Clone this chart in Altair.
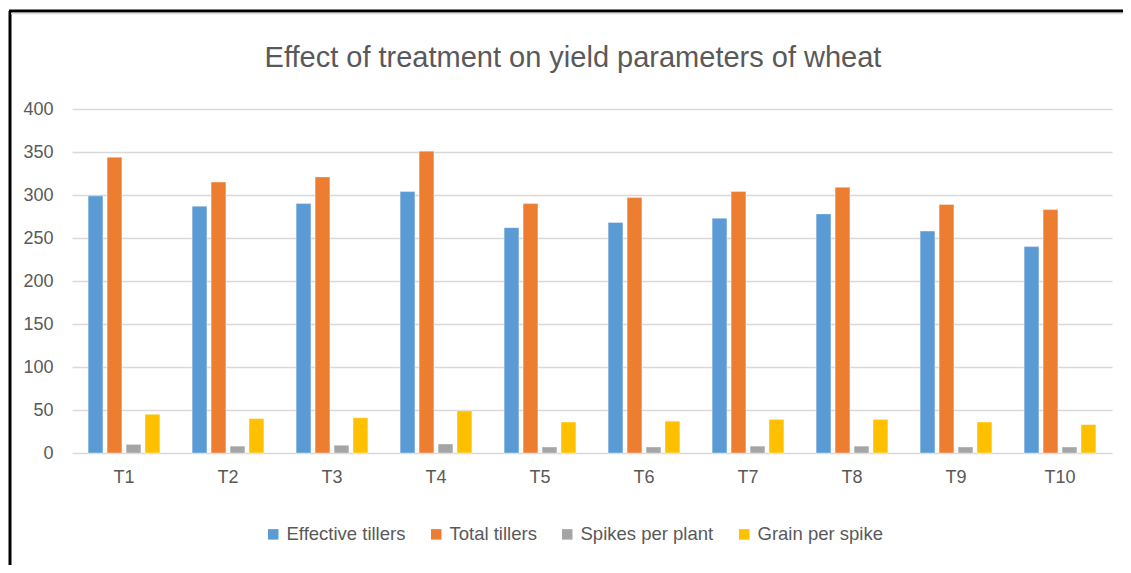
import altair as alt
import pandas as pd

treatments = ["T1", "T2", "T3", "T4", "T5", "T6", "T7", "T8", "T9", "T10"]
series = ["Effective tillers", "Total tillers", "Spikes per plant", "Grain per spike"]
effective_tillers = [299, 287, 290, 304, 262, 268, 273, 278, 258, 240]
total_tillers = [344, 315, 321, 351, 290, 297, 304, 309, 289, 283]
spikes_per_plant = [10, 8, 9, 10.5, 7, 7, 8, 8, 7, 7]
grain_per_spike = [45, 40, 41, 49, 36, 37, 39, 39, 36, 33]
colors = ["#5B9BD5", "#ED7D31", "#A5A5A5", "#FFC000"]
y_ticks = [0, 50, 100, 150, 200, 250, 300, 350, 400]
title_text = "Effect of treatment on yield parameters of wheat"

rows = []
for s, vals in zip(series, [effective_tillers, total_tillers, spikes_per_plant, grain_per_spike]):
    for t, v in zip(treatments, vals):
        rows.append({"Treatment": t, "Series": s, "Value": v})
df = pd.DataFrame(rows)

FONT = "Liberation Sans, Arial, sans-serif"
TXT = "#595959"

bars = alt.Chart(df).mark_bar(stroke="white", strokeWidth=0.6, strokeOpacity=0.6).encode(
    x=alt.X("Treatment:N", sort=treatments, title=None,
            scale=alt.Scale(paddingInner=0.31, paddingOuter=0.155),
            axis=alt.Axis(labelAngle=0, ticks=False, domain=False, labelPadding=15,
                          labelFontSize=18, labelColor=TXT, labelFont=FONT)),
    xOffset=alt.XOffset("Series:N", sort=series, scale=alt.Scale(paddingInner=0.22, paddingOuter=0)),
    y=alt.Y("Value:Q", title=None,
            scale=alt.Scale(domain=[0, 400], nice=False),
            axis=alt.Axis(values=y_ticks, ticks=False, domain=False, labelPadding=19,
                          labelFontSize=18, labelColor=TXT, labelFont=FONT,
                          gridColor="#D9D9D9", gridWidth=1.3)),
    color=alt.Color("Series:N", sort=series,
                    scale=alt.Scale(domain=series, range=colors),
                    legend=alt.Legend(title=None, orient="none", direction="horizontal",
                                      legendX=192, legendY=416,
                                      symbolType="square", symbolSize=110, symbolStrokeWidth=0,
                                      labelFontSize=18.5, labelColor=TXT, labelFont=FONT,
                                      labelOffset=4, columnPadding=21)),
)

one = alt.Data(values=[{}])
title_mark = alt.Chart(alt.Data(values=[{"t": title_text}])).mark_text(
    font=FONT, fontSize=29, color=TXT, align="center", baseline="alphabetic"
).encode(text="t:N", x=alt.value(501), y=alt.value(-42))
left_border = alt.Chart(one).mark_rule(color="black", strokeWidth=3).encode(
    x=alt.value(-62), y=alt.value(-98), y2=alt.value(460))
top_border = alt.Chart(one).mark_rule(color="black", strokeWidth=3).encode(
    x=alt.value(-63), x2=alt.value(1060), y=alt.value(-98))
top_grey = alt.Chart(one).mark_rule(color="#D9D9D9", strokeWidth=1.5).encode(
    x=alt.value(-61), x2=alt.value(1060), y=alt.value(-95.5))

chart = alt.layer(bars, title_mark, left_border, top_border, top_grey).properties(
    width=1040, height=344,
    padding={"left": 64, "top": 101, "right": 11, "bottom": 112},
    autosize=alt.AutoSizeParams(type="none"),
).configure(background="white").configure_view(stroke=None)

chart.save("out.html", embed_options={"renderer": "svg", "actions": False})
